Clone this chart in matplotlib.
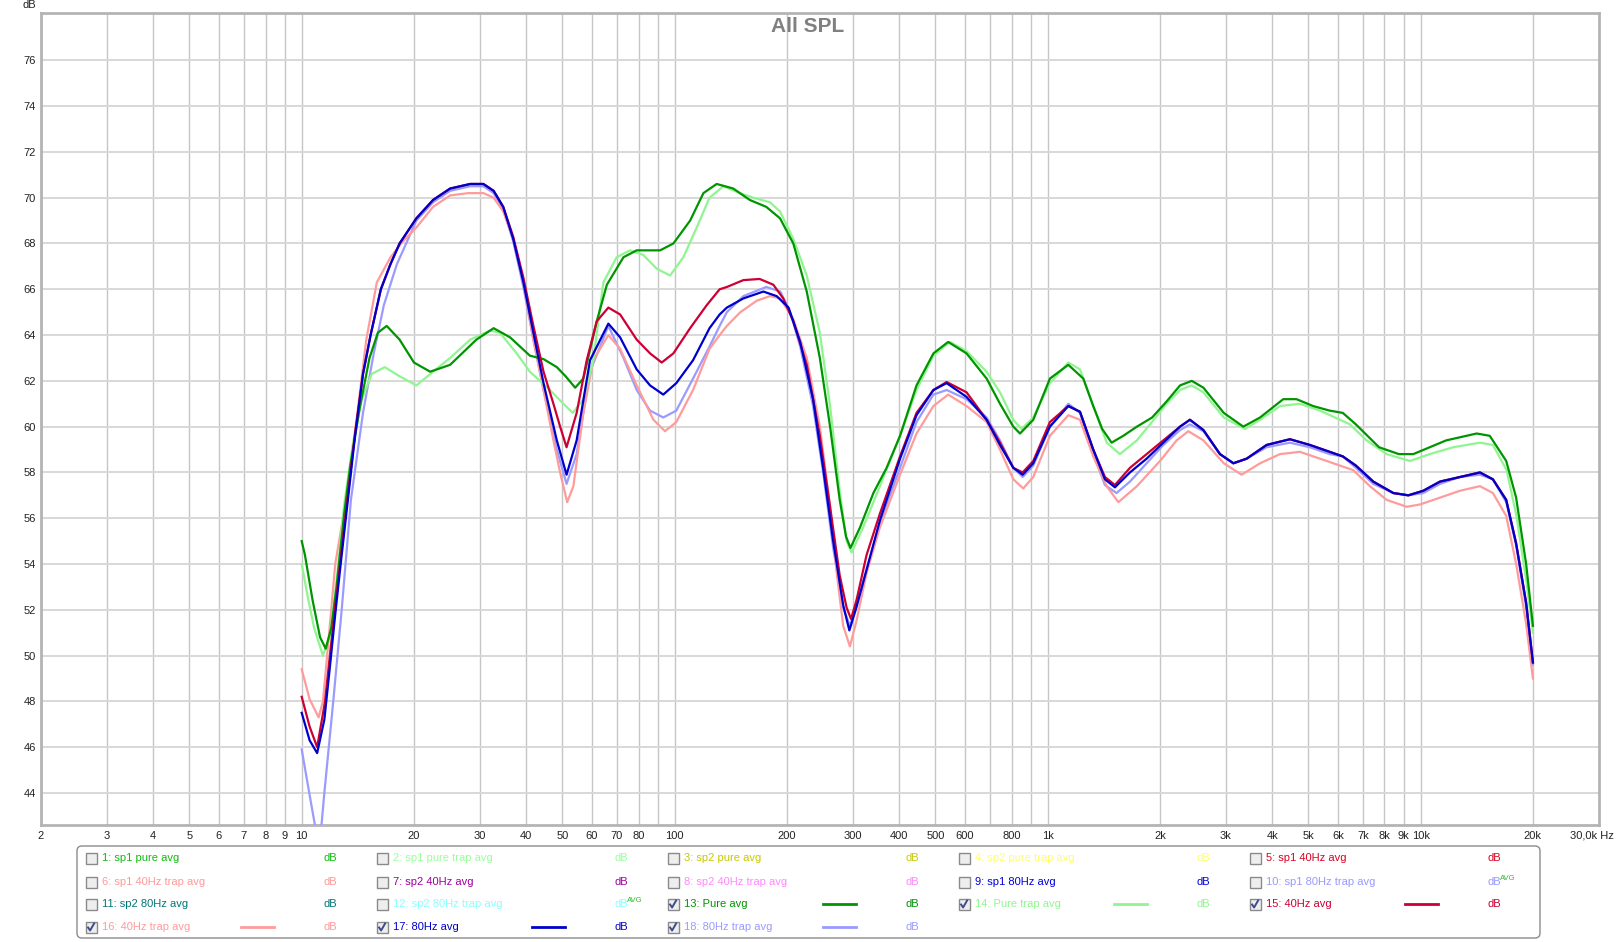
import matplotlib
matplotlib.use("Agg")
import matplotlib.pyplot as plt
from matplotlib.patches import FancyBboxPatch, Rectangle
from matplotlib.ticker import NullLocator

plt.rcParams["font.family"] = ["Liberation Sans", "DejaVu Sans"]

W, H = 1617, 942

# (Hz, dB) points
pure_avg = [(10, 55.0), (10.2, 54.4), (10.7, 52.4), (11.2, 50.8), (11.6, 50.3), (12.0, 51.2),
            (12.4, 53.0), (13.0, 56.2), (13.5, 58.3), (14.3, 60.8), (15.2, 63.0), (16.0, 64.1),
            (16.9, 64.4), (18.3, 63.8), (20, 62.8), (22.1, 62.4), (25, 62.7), (29.4, 63.8),
            (32.7, 64.3), (36.2, 63.9), (40.9, 63.1), (44.5, 62.95), (48.3, 62.6), (51, 62.2),
            (54.1, 61.7), (56.9, 62.1), (61.8, 64.6), (65.8, 66.2), (72.9, 67.4), (79.1, 67.7),
            (85, 67.7), (91.4, 67.7), (99.2, 68.0), (110, 69.0), (119.4, 70.2), (129.6, 70.6),
            (143.6, 70.4), (159, 69.9), (176, 69.6), (191.6, 69.1), (208, 68.0), (226, 65.9),
            (245, 63.0), (261, 60.0), (277, 56.8), (288, 55.2), (296, 54.7), (314, 55.6),
            (341, 57.1), (370, 58.2), (402, 59.6), (445, 61.8), (494, 63.2), (541, 63.7),
            (606, 63.2), (686, 62.1), (745, 61.0), (809, 60.0), (843, 59.7), (915, 60.3),
            (1014, 62.1), (1136, 62.7), (1246, 62.1), (1325, 60.9), (1400, 59.9), (1484, 59.3),
            (1595, 59.6), (1735, 60.0), (1906, 60.4), (2084, 61.1), (2264, 61.8), (2434, 62.0),
            (2616, 61.7), (2966, 60.6), (3346, 60.0), (3711, 60.4), (4282, 61.2), (4647, 61.2),
            (5148, 60.9), (5702, 60.7), (6184, 60.6), (6704, 60.1), (7735, 59.1), (8741, 58.8),
            (9555, 58.8), (10577, 59.1), (11710, 59.4), (14130, 59.7), (15320, 59.6),
            (16960, 58.5), (18030, 56.9), (19180, 54.0), (20000, 51.3)]

pure_trap_avg = [(10, 54.0), (10.4, 52.5), (10.8, 51.2), (11.4, 50.0), (11.9, 50.9), (12.4, 53.3),
                 (13.0, 56.6), (13.7, 59.2), (14.5, 61.2), (15.4, 62.3), (16.7, 62.6), (18.3, 62.2),
                 (20.3, 61.8), (22.5, 62.4), (25, 63.0), (28.3, 63.8), (32, 64.2), (34, 64.1),
                 (37.7, 63.2), (40.9, 62.4), (46.3, 61.6), (50.3, 61.0), (53.3, 60.6), (56.9, 61.2),
                 (60.5, 62.9), (64.4, 66.3), (69.9, 67.4), (75.9, 67.7), (82.4, 67.5), (89.5, 66.9),
                 (97.2, 66.6), (105.5, 67.4), (114.6, 68.7), (124, 70.0), (135, 70.5), (149.6, 70.2),
                 (162.4, 70.0), (180, 69.8), (191.6, 69.4), (208, 68.2), (226, 66.6), (245, 64.1),
                 (261, 60.9), (277, 57.2), (289, 55.0), (298, 54.5), (320, 55.6), (355, 57.4),
                 (402, 59.6), (445, 61.6), (494, 63.1), (547, 63.7), (606, 63.3), (686, 62.4),
                 (745, 61.5), (809, 60.3), (851, 59.9), (915, 60.4), (1014, 61.9), (1136, 62.8),
                 (1221, 62.5), (1325, 60.9), (1440, 59.3), (1562, 58.8), (1735, 59.4), (1925, 60.3),
                 (2084, 61.0), (2264, 61.6), (2434, 61.8), (2616, 61.5), (2966, 60.4), (3381, 59.9),
                 (3711, 60.3), (4196, 60.9), (4744, 61.0), (5372, 60.7), (6075, 60.3), (6460, 60.1),
                 (7160, 59.4), (8109, 58.8), (9361, 58.5), (10577, 58.8), (12230, 59.1),
                 (14420, 59.3), (15620, 59.2), (17000, 58.1), (18070, 56.1), (19220, 53.2),
                 (20000, 51.0)]

hz40_avg = [(10, 48.2), (10.5, 46.9), (11.0, 46.0), (11.55, 48.0), (11.9, 50.0), (12.27, 52.0),
            (12.67, 54.0), (13.25, 56.8), (13.9, 59.7), (14.6, 62.3), (15.3, 64.0), (16.3, 66.0),
            (17.3, 67.1), (18.3, 68.0), (20.3, 69.1), (22.5, 69.9), (25, 70.4), (28.3, 70.6),
            (30.7, 70.6), (32.7, 70.3), (34.7, 69.6), (36.9, 68.3), (39.3, 66.5), (41.8, 64.4),
            (44.5, 62.4), (47.3, 61.0), (49.3, 60.0), (51.3, 59.1), (54.6, 60.6), (58.1, 62.9),
            (61.8, 64.6), (66.4, 65.2), (71.4, 64.9), (79.1, 63.8), (85.9, 63.2), (92.3, 62.8),
            (99.2, 63.2), (110, 64.3), (121.8, 65.3), (132, 66.0), (138, 66.1), (152.8, 66.4),
            (169, 66.45), (183.8, 66.2), (195.5, 65.6), (208, 64.6), (226, 62.7), (245, 59.6),
            (261, 56.5), (277, 53.5), (289, 52.1), (297, 51.6), (307, 52.4), (327, 54.4),
            (355, 56.2), (402, 58.7), (445, 60.6), (494, 61.6), (536, 61.95), (606, 61.5),
            (686, 60.3), (745, 59.3), (809, 58.2), (857, 58.0), (915, 58.5), (1014, 60.2),
            (1136, 60.9), (1221, 60.65), (1325, 59.0), (1424, 57.8), (1515, 57.45), (1662, 58.2),
            (1842, 58.8), (2042, 59.4), (2264, 60.0), (2407, 60.3), (2616, 59.85), (2897, 58.8),
            (3147, 58.4), (3415, 58.6), (3864, 59.2), (4462, 59.45), (5047, 59.2), (5702, 58.9),
            (6184, 58.7), (6704, 58.3), (7464, 57.6), (8447, 57.1), (9268, 57.0), (10164, 57.2),
            (11270, 57.6), (12750, 57.8), (14420, 58.0), (15620, 57.7), (16960, 56.8),
            (18030, 54.9), (19180, 52.3), (20000, 49.7)]

hz40_trap_avg = [(10, 49.4), (10.5, 48.1), (11.1, 47.3), (11.4, 48.0), (11.7, 50.0), (12.0, 52.0),
                 (12.3, 54.0), (13.15, 56.8), (14.05, 60.4), (14.9, 63.8), (15.9, 66.3), (17.3, 67.4),
                 (18.7, 68.1), (20.3, 68.7), (22.5, 69.6), (25, 70.1), (28, 70.2), (30.7, 70.2),
                 (32.7, 70.0), (34.7, 69.4), (36.9, 68.2), (39.3, 66.3), (41.8, 63.8), (44.5, 61.6),
                 (47.3, 59.4), (49.3, 58.0), (51.5, 56.7), (53.5, 57.4), (56.9, 60.6), (60.5, 62.9),
                 (66.4, 64.0), (71.4, 63.4), (79.1, 61.8), (87.7, 60.3), (94.2, 59.8), (101, 60.2),
                 (112, 61.6), (124, 63.4), (132, 64.0), (138, 64.4), (150, 65.0), (166, 65.5),
                 (180, 65.7), (192, 65.6), (208, 64.7), (226, 63.0), (245, 60.0), (261, 56.5),
                 (272, 53.6), (283, 51.3), (295, 50.4), (307, 51.5), (327, 53.6), (355, 55.6),
                 (402, 57.9), (445, 59.7), (494, 60.9), (541, 61.4), (606, 60.9), (686, 60.2),
                 (745, 59.0), (809, 57.7), (860, 57.3), (915, 57.8), (1014, 59.6), (1136, 60.5),
                 (1221, 60.3), (1325, 58.7), (1440, 57.4), (1547, 56.7), (1735, 57.4), (2001, 58.5),
                 (2217, 59.4), (2383, 59.8), (2616, 59.4), (2966, 58.4), (3312, 57.9), (3711, 58.4),
                 (4196, 58.8), (4744, 58.9), (5372, 58.6), (6075, 58.3), (6597, 58.1), (7311, 57.4),
                 (8109, 56.8), (9172, 56.5), (9960, 56.6), (11270, 56.9), (12750, 57.2),
                 (14420, 57.4), (15620, 57.1), (16960, 56.1), (18030, 54.0), (19180, 51.4),
                 (20000, 49.0)]

hz80_avg = [(10, 47.5), (10.5, 46.3), (11.0, 45.74), (11.5, 47.2), (11.9, 49.5), (12.3, 51.8),
            (12.7, 53.9), (13.3, 56.8), (13.9, 59.6), (14.6, 62.3), (15.3, 64.0), (16.3, 66.0),
            (17.3, 67.1), (18.3, 68.0), (20.3, 69.1), (22.5, 69.9), (25, 70.4), (28.3, 70.6),
            (30.7, 70.6), (32.7, 70.3), (34.7, 69.6), (36.9, 68.2), (39.3, 66.3), (41.8, 64.1),
            (44.5, 61.9), (48.3, 59.4), (51.3, 57.9), (54.6, 59.4), (59.3, 62.9), (66.4, 64.5),
            (71.4, 63.9), (79.1, 62.5), (85.9, 61.8), (93.2, 61.4), (101, 61.9), (112, 62.9),
            (124, 64.3), (132, 64.9), (138, 65.2), (152.8, 65.6), (172.9, 65.9), (187.7, 65.7),
            (202, 65.2), (217, 63.7), (235, 61.2), (250, 58.2), (266, 55.0), (283, 52.2),
            (294, 51.1), (307, 52.1), (355, 55.9), (402, 58.6), (445, 60.5), (494, 61.6),
            (536, 61.9), (606, 61.3), (686, 60.3), (745, 59.2), (809, 58.2), (857, 57.9),
            (915, 58.4), (1014, 60.0), (1136, 60.9), (1221, 60.65), (1325, 59.0), (1424, 57.7),
            (1515, 57.35), (1662, 58.0), (1842, 58.6), (2042, 59.3), (2264, 60.0), (2407, 60.3),
            (2616, 59.85), (2897, 58.8), (3147, 58.4), (3415, 58.6), (3864, 59.2), (4462, 59.45),
            (5047, 59.2), (5702, 58.9), (6184, 58.7), (6704, 58.3), (7464, 57.6), (8447, 57.1),
            (9268, 57.0), (10164, 57.2), (11270, 57.6), (12750, 57.8), (14420, 58.0),
            (15620, 57.7), (16960, 56.8), (18030, 54.9), (19180, 52.3), (20000, 49.7)]

hz80_trap_avg = [(10, 45.9), (10.4, 44.3), (10.85, 42.6), (11.05, 42.2), (11.3, 42.6), (11.5, 44.0),
                 (12.15, 48.0), (12.8, 52.0), (13.55, 56.8), (14.6, 60.6), (15.6, 63.2), (16.6, 65.3),
                 (18.0, 67.1), (20.3, 69.0), (22.5, 69.8), (25, 70.3), (28.3, 70.5), (30.7, 70.5),
                 (32.7, 70.2), (34.7, 69.5), (36.9, 68.1), (39.3, 66.1), (41.8, 63.8), (44.5, 61.6),
                 (48.3, 59.0), (51.3, 57.5), (54.6, 58.8), (59.3, 62.4), (66.4, 64.4), (72.9, 63.0),
                 (79.1, 61.6), (85.9, 60.7), (93.2, 60.4), (101, 60.7), (112, 62.1), (124, 63.5),
                 (132, 64.4), (138, 65.0), (152.8, 65.7), (176, 66.1), (192, 65.9), (204, 65.0),
                 (217, 63.5), (235, 60.9), (250, 58.0), (266, 54.7), (283, 52.1), (295, 51.3),
                 (307, 52.2), (355, 55.8), (402, 58.2), (445, 60.2), (494, 61.4), (536, 61.6),
                 (606, 61.2), (686, 60.4), (745, 59.4), (809, 58.2), (857, 57.8), (915, 58.3),
                 (1014, 60.0), (1136, 61.0), (1221, 60.6), (1325, 58.8), (1424, 57.45), (1530, 57.1),
                 (1662, 57.6), (1842, 58.4), (2042, 59.2), (2264, 59.85), (2407, 60.1), (2616, 59.8),
                 (2897, 58.8), (3147, 58.4), (3415, 58.6), (3864, 59.1), (4462, 59.3), (5047, 59.1),
                 (5702, 58.8), (6184, 58.7), (6704, 58.2), (7464, 57.5), (8447, 57.1), (9268, 57.0),
                 (10164, 57.1), (11270, 57.5), (12750, 57.8), (14420, 57.9), (15620, 57.7),
                 (16960, 56.7), (18030, 54.8), (19180, 52.1), (20000, 49.6)]

# drawn back to front
curves = [(hz80_trap_avg, "#9b9bff"), (hz40_trap_avg, "#ff9b9b"), (pure_trap_avg, "#90f590"),
          (pure_avg, "#009500"), (hz40_avg, "#cc0033"), (hz80_avg, "#0000cc")]

grid_freqs = [2, 3, 4, 5, 6, 7, 8, 9, 10, 20, 30, 40, 50, 60, 70, 80, 90,
              100, 200, 300, 400, 500, 600, 700, 800, 900,
              1000, 2000, 3000, 4000, 5000, 6000, 7000, 8000, 9000, 10000, 20000]
grid_labels = ["2", "3", "4", "5", "6", "7", "8", "9", "10", "20", "30", "40", "50", "60", "70", "80", "",
               "100", "200", "300", "400", "500", "600", "", "800", "",
               "1k", "2k", "3k", "4k", "5k", "6k", "7k", "8k", "9k", "10k", "20k"]
y_ticks = list(range(44, 77, 2))

legend_labels = ["1: sp1 pure avg", "2: sp1 pure trap avg", "3: sp2 pure avg", "4: sp2 pure trap avg",
                 "5: sp1 40Hz avg", "6: sp1 40Hz trap avg", "7: sp2 40Hz avg", "8: sp2 40Hz trap avg",
                 "9: sp1 80Hz avg", "10: sp1 80Hz trap avg", "11: sp2 80Hz avg", "12: sp2 80Hz trap avg",
                 "13: Pure avg", "14: Pure trap avg", "15: 40Hz avg", "16: 40Hz trap avg",
                 "17: 80Hz avg", "18: 80Hz trap avg"]
legend_colors = ["#11bb11", "#99ff99", "#c8c800", "#ffff66", "#dd0022", "#ff9999", "#a000a0", "#ff88ff",
                 "#0000dd", "#9999ff", "#007777", "#88ffff", "#009500", "#90f590", "#cc0033", "#ff9b9b",
                 "#0000cc", "#9b9bff"]
legend_checked = [False] * 12 + [True] * 6
legend_avg = [9, 11]

fig = plt.figure(figsize=(W / 100, H / 100), dpi=100)
ax = fig.add_axes([41 / W, 1 - 825 / H, (1598.6 - 41) / W, (825 - 13.4) / H])
ax.set_xscale("log")
ax.set_xlim(2, 30000)
ax.set_ylim(42.6, 78.05)

for data, color in curves:
    ax.plot([p[0] for p in data], [p[1] for p in data], color=color, lw=1.6,
            solid_joinstyle="round", zorder=3)

ax.set_xticks(grid_freqs, labels=grid_labels)
ax.xaxis.set_minor_locator(NullLocator())
ax.set_yticks(y_ticks)
ax.tick_params(axis="x", length=0, labelsize=8, colors="#222222", pad=4)
ax.tick_params(axis="y", length=0, labelsize=8, colors="#222222", pad=3.5)
ax.grid(axis="x", color="#c6c6c6", lw=1)
ax.grid(axis="y", color="#d8d8d8", lw=1.4)
for s in ax.spines.values():
    s.set_color("#b4b4b4")
    s.set_linewidth(2)

# overlay in pixel coords for texts and the legend panel
lax = fig.add_axes([0, 0, 1, 1])
lax.set_xlim(0, W)
lax.set_ylim(H, 0)
lax.axis("off")

lax.text(29, 5, "dB", ha="center", va="center", fontsize=8, color="#222222")
lax.text(808, 26, "All SPL", ha="center", va="center", fontsize=15, fontweight="bold", color="#808080")
lax.text(1614, 836, "30,0k Hz", ha="right", va="center", fontsize=8, color="#222222")

lax.add_patch(FancyBboxPatch((77, 846), 1540 - 77, 938 - 846, boxstyle="round,pad=0,rounding_size=5",
                             ec="#8c8c8c", fc="white", lw=1))

row_y = [858, 882, 904, 927]
for i, lab in enumerate(legend_labels):
    r, c = divmod(i, 5)
    cx = 85.6 + 291 * c
    cy = row_y[r]
    col = legend_colors[i]
    lax.add_patch(Rectangle((cx, cy - 5.5), 11, 11, ec="#8a8a8a", fc="#eeeeee", lw=1))
    if legend_checked[i]:
        lax.plot([cx + 2.5, cx + 4.5, cx + 8.5], [cy + 0.5, cy + 3.5, cy - 3.5], color="#3c4c8c", lw=1.4)
        lax.plot([cx + 155, cx + 188], [cy, cy], color=col, lw=2)
    lax.text(cx + 16.5, cy, lab, ha="left", va="center", fontsize=8, color=col)
    lax.text(cx + 238, cy, "dB", ha="left", va="center", fontsize=8, color=col)
    if i in legend_avg:
        lax.text(cx + 250, cy - 4, "AVG", ha="left", va="center", fontsize=5.5, color="#33bb33")

fig.savefig("out.png", dpi=100)
